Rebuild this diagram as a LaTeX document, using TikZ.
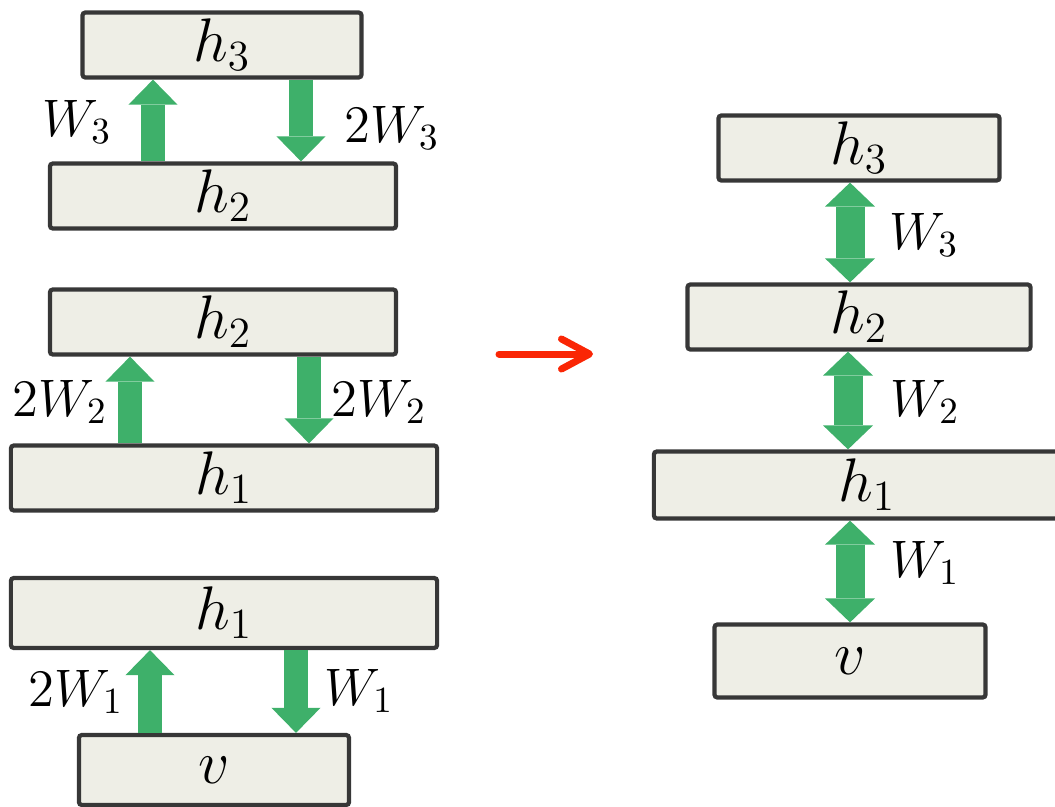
\documentclass[tikz,border=0pt]{standalone}
\usepackage{fix-cm}
\usepackage{tikz}
\usetikzlibrary{arrows.meta}
\usepackage{xcolor}
\definecolor{LayerFill}{RGB}{238,238,230}
\definecolor{LayerEdge}{RGB}{55,55,55}
\definecolor{WeightGreen}{RGB}{62,176,106}
\definecolor{StepRed}{RGB}{250,38,5}

\begin{document}
\begin{tikzpicture}[
x=0.01cm,y=-0.01cm,
layer/.style={
rectangle,rounded corners=0.3mm,draw=LayerEdge,fill=LayerFill,line width=1.2pt,
minimum height=6.5mm,inner sep=0pt,font=\fontsize{17.5}{20}\selectfont
},
wlabel/.style={inner sep=0pt,font=\fontsize{15}{18}\selectfont},
oneway/.style={-{Triangle[length=2.5mm,width=4.9mm,line width=0pt]},line width=2.4mm,draw=WeightGreen},
twoway/.style={{Triangle[length=2.4mm,width=5mm,line width=0pt]}-{Triangle[length=2.4mm,width=5mm,line width=0pt]},line width=2.9mm,draw=WeightGreen}
]

\clip (0,0) rectangle (1055,806);

\node[layer,minimum width=2.79cm] (a3) at (222,45) {$h_3$};

\node[layer,minimum width=3.46cm] (a2) at (223,196) {$h_2$};

\node[layer,minimum width=3.46cm] (b2) at (223,322) {$h_2$};

\node[layer,minimum width=4.26cm] (b1) at (224,478) {$h_1$};

\node[layer,minimum width=4.26cm,minimum height=7mm] (c1) at (224,613) {$h_1$};

\node[layer,minimum width=2.70cm,minimum height=7mm] (c0) at (214,770) {$v$};

\node[layer,minimum width=2.81cm] (r3) at (859,148) {$h_3$};

\node[layer,minimum width=3.43cm] (r2) at (859,317) {$h_2$};

\node[layer,minimum width=4.26cm,minimum height=6.7mm] (r1) at (867,485) {$h_1$};

\node[layer,minimum width=2.71cm,minimum height=7.3mm] (r0) at (850,661) {$v$};

\draw[oneway] (a2.north -| 153,0) -- (a3.south -| 153,0);
\draw[oneway] (a3.south -| 301,0) -- (a2.north -| 301,0);
\draw[oneway] (b1.north -| 130,0) -- (b2.south -| 130,0);
\draw[oneway] (b2.south -| 309,0) -- (b1.north -| 309,0);
\draw[oneway] (c0.north -| 150,0) -- (c1.south -| 150,0);
\draw[oneway] (c1.south -| 296,0) -- (c0.north -| 296,0);

\draw[twoway] (r3.south -| 850,0) -- (r2.north -| 850,0);
\draw[twoway] (r2.south -| 848,0) -- (r1.north -| 848,0);
\draw[twoway] (r1.south -| 850,0) -- (r0.north -| 850,0);

\node[wlabel] (la3) at (77,122) {$W_3$};
\node[wlabel] (ra3) at (392,128) {$2W_3$};
\node[wlabel] (lb2) at (60,402) {$2W_2$};
\node[wlabel] (rb2) at (379,402) {$2W_2$};
\node[wlabel] (lc1) at (76,692) {$2W_1$};
\node[wlabel] (rc1) at (359,691) {$W_1$};
\node[wlabel] (w3) at (924,235) {$W_3$};
\node[wlabel] (w2) at (925,402) {$W_2$};
\node[wlabel] (w1) at (925,563) {$W_1$};

\coordinate (from) at (499,354);
\coordinate (to) at (593,354);
\draw[-{Straight Barb[length=2.8mm,width=3mm,line cap=round,line join=round]},line width=0.7mm,line cap=round,draw=StepRed] (from) -- (to);

\end{tikzpicture}
\end{document}
